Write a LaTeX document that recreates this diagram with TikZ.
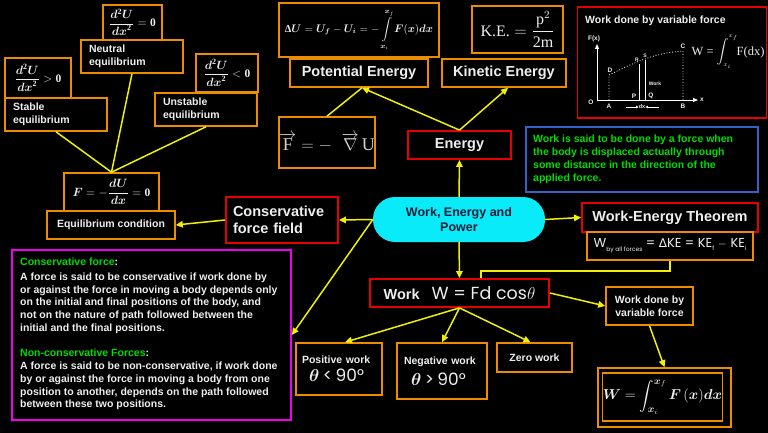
\documentclass[tikz,border=0pt]{standalone}
\usepackage{amsmath}
\usepackage{fontspec}
\setmainfont{Liberation Sans}
\newfontfamily\lserif{Liberation Serif}
\newfontfamily\popfont{Poppins}
\newfontfamily\dejafont{DejaVu Sans}
\DeclareMathAlphabet{\mathbi}{OML}{cmm}{b}{it}
\DeclareSymbolFont{boldletters}{OML}{cmm}{b}{it}
\DeclareMathSymbol{\btheta}{\mathord}{boldletters}{"12}
\newcommand\bdg[1]{\text{\lserif\bfseries #1}}
\usetikzlibrary{arrows.meta}
\definecolor{orng}{RGB}{236,140,0}
\definecolor{redc}{RGB}{230,0,0}
\definecolor{yel}{RGB}{240,240,0}
\definecolor{cyanc}{RGB}{10,235,250}
\definecolor{bluec}{RGB}{50,100,200}
\definecolor{magc}{RGB}{240,0,240}
\definecolor{grn}{RGB}{0,220,0}
\definecolor{txt}{RGB}{238,238,238}
\definecolor{gry}{RGB}{210,210,210}
\definecolor{navy}{RGB}{20,30,55}
\begin{document}
\begin{tikzpicture}[x=1pt,y=-1pt,
  base/.style={inner sep=0pt, align=center, text=txt, font=\bfseries\fontsize{10.5}{12.7}\selectfont},
  obox/.style={base, draw=orng, line width=1.6pt},
  rbox/.style={base, draw=redc, line width=1.8pt, font=\bfseries\fontsize{14.5}{17}\selectfont},
  arr/.style={draw=yel, line width=1.5pt, -{Triangle[length=7pt,width=6.5pt]}},
  ln/.style={draw=yel, line width=1.5pt},
  gsmall/.style={inner sep=0pt, text=txt, font=\bfseries\fontsize{6.5}{7}\selectfont}]
\fill[black] (0,0) rectangle (768,433);
\useasboundingbox (0,0) rectangle (768,433);

% equilibrium cluster
\node[obox, minimum width=59pt, minimum height=35pt] (dzero) at (132.5,22.5)
  {\fontsize{11.5}{13}\selectfont$\dfrac{\mathbi{d}^{\bdg{2}}\mathbi{U}}{\mathbi{dx}^{\bdg{2}}}=\bdg{0}$};
\node[obox, minimum width=102pt, minimum height=33pt, text width=86pt, align=left] (neutral) at (132,56.5)
  {Neutral\\equilibrium};
\node[obox, minimum width=66pt, minimum height=40pt] (dpos) at (38,78)
  {\fontsize{11.5}{13}\selectfont$\dfrac{\mathbi{d}^{\bdg{2}}\mathbi{U}}{\mathbi{dx}^{\bdg{2}}}>\bdg{0}$};
\node[obox, minimum width=102pt, minimum height=33pt, text width=86pt, align=left] (stable) at (56,114.5)
  {Stable\\equilibrium};
\node[obox, minimum width=62pt, minimum height=38pt] (dneg) at (227,73)
  {\fontsize{11.5}{13}\selectfont$\dfrac{\mathbi{d}^{\bdg{2}}\mathbi{U}}{\mathbi{dx}^{\bdg{2}}}<\bdg{0}$};
\node[obox, minimum width=102pt, minimum height=33pt, text width=86pt, align=left] (unstable) at (206,109.5)
  {Unstable\\equilibrium};
\node[obox, minimum width=95pt, minimum height=38pt] (fzero) at (111.5,192)
  {\fontsize{11.5}{13}\selectfont$\mathbi{F}=-\dfrac{\mathbi{dU}}{\mathbi{dx}}=\bdg{0}$};
\node[obox, minimum width=128pt, minimum height=28pt] (eqcond) at (111,225) {Equilibrium condition};
\node[rbox, minimum width=112pt, minimum height=46pt, text width=98pt, align=left] (cff) at (282,220)
  {Conservative\\force field};

% centre
\node[fill=cyanc, rounded corners=22pt, minimum width=172pt, minimum height=45pt, inner sep=0pt,
  align=center, text=navy, font=\bfseries\fontsize{12.5}{15}\selectfont] (main) at (459,219.5)
  {Work, Energy and\\Power};

% energy branch
\node[rbox, minimum width=103pt, minimum height=28pt] (energy) at (459.5,145) {Energy};
\node[rbox, draw=orng, line width=1.6pt, minimum width=138pt, minimum height=28pt] (pe) at (359,73) {Potential Energy};
\node[rbox, draw=orng, line width=1.6pt, minimum width=124pt, minimum height=28pt] (ke) at (504,73) {Kinetic Energy};
\node[obox, minimum width=160pt, minimum height=54pt] (du) at (359,30)
  {\fontsize{10.5}{12}\selectfont$\displaystyle \bdg{Δ}\mathbi{U}=\mathbi{U}_{\mathbi{f}}-\mathbi{U}_{\mathbi{i}}=-\int\limits_{\mathbi{x}_i}^{\mathbi{x}_f}\mathbi{F}(\mathbi{x})\mathbi{dx}$};
\node[obox, minimum width=91pt, minimum height=47pt, font=\fontsize{16}{18}\selectfont] (kef) at (517.5,29.5)
  {{\lserif K.E.} $=\dfrac{\text{\lserif p}^2}{\text{\lserif 2m}}$};
\node[obox, minimum width=88pt, minimum height=51pt, text=gry, font=\fontsize{18}{20}\selectfont] (grad) at (327,142.5)
  {$\overrightarrow{\text{\lserif F}}=-\;\;\overrightarrow{\nabla}\,\text{\lserif U}$};

% graph box
\node[draw=redc, line width=1.5pt, minimum width=189pt, minimum height=111pt, inner sep=0pt] (graph) at (672,62.5) {};
\node[base, anchor=west] (gtitle) at (585,21) {Work done by variable force};
\draw[white, line width=0.9pt, -{Triangle[length=5pt,width=4pt]}] (597,100) -- (597,44);
\draw[white, line width=0.9pt, -{Triangle[length=5pt,width=4pt]}] (597,100) -- (698,100);
\draw[white, dotted, line width=0.8pt] (609,100) -- (609,75) .. controls (632,64) and (652,53) .. (683,51) -- (683,100);
\draw[white, line width=0.8pt] (639,100) -- (639,64.5) (645,100) -- (645,60);
\node[gsmall] (gF) at (594,39) {F(x)};
\node[gsmall] (gx) at (702,100) {x};
\node[gsmall] (gO) at (591,102) {O};
\node[gsmall] (gA) at (609,106) {A};
\node[gsmall] (gB) at (683,106) {B};
\node[gsmall] (gC) at (683,46) {C};
\node[gsmall] (gD) at (610,70) {D};
\node[gsmall] (gP) at (634,96) {P};
\node[gsmall] (gQ) at (651,96) {Q};
\node[gsmall, font=\bfseries\fontsize{5}{6}\selectfont] (gR) at (637,60) {R};
\node[gsmall, font=\bfseries\fontsize{5}{6}\selectfont] (gS) at (645,56) {S};
\node[gsmall, font=\bfseries\fontsize{5}{6}\selectfont] (gwork) at (655,84) {Work};
\node[gsmall, font=\bfseries\fontsize{5.5}{6}\selectfont] (gdx) at (642,107) {dx};
\draw[white, line width=0.6pt, -{Triangle[length=2.5pt,width=2.5pt]}] (626,107) -- (gdx.west);
\draw[white, line width=0.6pt, -{Triangle[length=2.5pt,width=2.5pt]}] (659,107) -- (gdx.east);
\node[text=txt, inner sep=0pt] (gW) at (728,52)
  {\lserif\fontsize{12.5}{14}\selectfont W = $\displaystyle\int_{{}_{x_i}}^{{}^{x_f}}\!$F(dx)};

% definition box
\node[draw=bluec, line width=1.3pt, minimum width=232pt, minimum height=65pt, inner sep=0pt] (defbox) at (642,159.5) {};
\node[base, text=grn, align=left, anchor=west, font=\bfseries\fontsize{10.5}{13}\selectfont] (deftext) at (533,159.5)
  {Work is said to be done by a force when\\the body is displaced actually through\\some distance in the direction of the\\applied force.};

% work-energy theorem
\node[rbox, minimum width=176pt, minimum height=29pt] (wet) at (670,217.5) {Work-Energy Theorem};
\node[obox, minimum width=166pt, minimum height=28pt, font=\popfont\fontsize{13}{15}\selectfont] (wall) at (670,246)
  {W\raisebox{-4pt}{\fontsize{6}{7}\selectfont by all forces} = {\dejafont\fontsize{12}{14}\selectfont Δ}KE = KE\raisebox{-3pt}{\fontsize{6}{7}\selectfont f} $-$ KE\raisebox{-3pt}{\fontsize{6}{7}\selectfont i}};

% work
\node[rbox, minimum width=179pt, minimum height=28pt] (work) at (459.5,293)
  {Work\hspace{12pt}{\mdseries\popfont\fontsize{17.5}{19}\selectfont W = Fd cos$\theta$}};
\node[obox, minimum width=87pt, minimum height=38pt] (wvf) at (649.5,306) {Work done by\\variable force};
\node[obox, minimum width=133pt, minimum height=59pt] (wintout) at (664.5,397.5) {};
\node[obox, line width=1.2pt, minimum width=113pt, minimum height=48pt] (wint) at (662.5,397)
  {\fontsize{14}{16}\selectfont$\displaystyle \mathbi{W}=\int_{\mathbi{x}_i}^{\mathbi{x}_f}\mathbi{F}\,(\mathbi{x})\mathbi{dx}$};
\node[obox, minimum width=86pt, minimum height=52pt, text width=74pt, align=left] (pos) at (339,369)
  {Positive work\\[5pt]\hspace*{7pt}{\fontsize{17}{19}\selectfont$\btheta$ {\mdseries\popfont< 90°}}};
\node[obox, minimum width=90pt, minimum height=56pt, text width=76pt, align=left] (neg) at (442,371)
  {Negative work\\[5pt]\hspace*{7pt}{\fontsize{17}{19}\selectfont$\btheta$ {\mdseries\popfont> 90°}}};
\node[obox, minimum width=75pt, minimum height=29pt] (zero) at (534.5,357.5) {Zero work};

% conservative text box
\node[draw=magc, line width=1.6pt, minimum width=279pt, minimum height=170pt, inner sep=0pt] (pinkbox) at (151.5,335) {};
\node[base, align=left, anchor=west, font=\bfseries\fontsize{10.5}{12.8}\selectfont] (pinktext) at (20,334)
  {{\color{grn}Conservative force}:\\[2pt]
   A force is said to be conservative if work done by\\
   or against the force in moving a body depends only\\
   on the initial and final positions of the body, and\\
   not on the nature of path followed between the\\
   initial and the final positions.\\[12.5pt]
   {\color{grn}Non-conservative Forces}:\\
   A force is said to be non-conservative, if work done\\
   by or against the force in moving a body from one\\
   position to another, depends on the path followed\\
   between these two positions.};

% connectors
\draw[ln] (stable.south) -- (fzero.north);
\draw[ln] (neutral.south) -- (fzero.north);
\draw[ln] (unstable.south) -- (fzero.north);
\draw[arr] (cff.west) -- (eqcond.east);
\draw[arr] (main.west) -- (cff.east);
\draw[arr] (main.west) -- (pinkbox.east);
\draw[arr] (main.north) -- (energy.south);
\draw[arr] (energy.north) -- ([xshift=3pt]pe.south);
\draw[arr] (energy.north) -- ([xshift=4pt]ke.south);
\draw[ln] (grad.north) -- ([xshift=3pt]pe.south);
\draw[arr] (main.east) -- (wet.west);
\draw[arr] (main.south) -- (work.north);
\draw[ln] (wall.south) -- ++(0,10) -| ([xshift=21.5pt]work.north);
\draw[arr] (work.east) -- (wvf.west);
\draw[arr] (wvf.south) -- (wintout.north);
\draw[arr] (work.south) -- ([xshift=6pt]pos.north);
\draw[arr] (work.south) -- (neg.north);
\draw[arr] (work.south) -- ([xshift=-4pt]zero.north);
\end{tikzpicture}
\end{document}
